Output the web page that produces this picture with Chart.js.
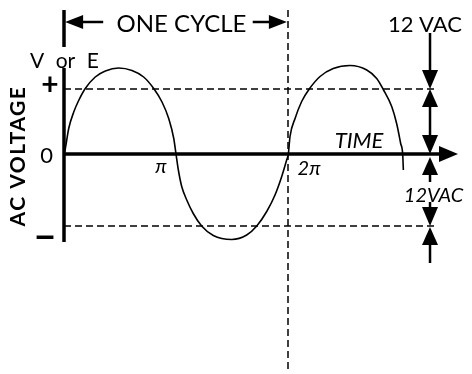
<!DOCTYPE html>
<html><head><meta charset="utf-8">
<script src="https://cdn.jsdelivr.net/npm/chart.js@4"></script>
<style>html,body{margin:0;padding:0;background:#fff}#wrap{width:472px;height:374px;position:relative}</style>
</head><body><div id="wrap"><canvas id="c" width="472" height="374"></canvas></div>
<script>
// Phase of the wave, in multiples of π
const phase = [0, 0.012, 0.042, 0.087, 0.131, 0.190, 0.279, 0.369, 0.488, 0.607, 0.711, 0.801, 0.875, 0.935, 0.980, 1.000,
  1.021, 1.051, 1.096, 1.154, 1.229, 1.333, 1.497, 1.631, 1.721, 1.810, 1.884, 1.944, 1.988, 2.003,
  2.018, 2.063, 2.122, 2.190, 2.286, 2.404, 2.554, 2.703, 2.792, 2.851, 2.926, 2.970, 3.006, 3.024, 3.030];
// Instantaneous voltage (V) at each phase point
const voltage = [0, 1.1, 5.1, 8.4, 10.7, 13.1, 15.4, 16.6, 17.2, 16.7, 15.4, 13.1, 10.4, 7.1, 3.1, 0,
  -3.2, -6.5, -9.2, -11.9, -14.4, -16.3, -17.1, -16.2, -14.4, -11.5, -8.2, -4.5, -1.2, 0,
  3.5, 7.1, 10.5, 13.0, 15.5, 17.1, 17.7, 16.8, 15.1, 12.9, 9.5, 6.1, 2.1, 0, -3.2];
// Dashed reference levels (V)
const refLevels = [13.0, -14.4];
// Phase tick labels
const tickPositions = [1, 2];
const tickLabels = ['π', '2π'];
// Other texts
const cycleLabel = 'ONE CYCLE';
const axisTitle = 'AC VOLTAGE';
const timeLabel = 'TIME';
const quantityLabel = 'V or E';
const amplitudeLabels = ['12 VAC', '12VAC'];

const FONT = 'Lato, "Open Sans", sans-serif';

const annot = {
  id: 'annot',
  afterDatasetsDraw(chart) {
    const {ctx, scales: {x, y}} = chart;
    const X = v => x.getPixelForValue(v), Y = v => y.getPixelForValue(v);
    ctx.save();
    ctx.strokeStyle = '#000'; ctx.fillStyle = '#000'; ctx.lineCap = 'butt';
    const line = (x1, y1, x2, y2, w) => { ctx.lineWidth = w; ctx.beginPath(); ctx.moveTo(x1, y1); ctx.lineTo(x2, y2); ctx.stroke(); };
    const head = (tx, ty, dir, len, wid) => {
      ctx.beginPath(); ctx.moveTo(tx, ty);
      if (dir === 'right') { ctx.lineTo(tx - len, ty - wid / 2); ctx.lineTo(tx - len, ty + wid / 2); }
      if (dir === 'left') { ctx.lineTo(tx + len, ty - wid / 2); ctx.lineTo(tx + len, ty + wid / 2); }
      if (dir === 'down') { ctx.lineTo(tx - wid / 2, ty - len); ctx.lineTo(tx + wid / 2, ty - len); }
      if (dir === 'up') { ctx.lineTo(tx - wid / 2, ty + len); ctx.lineTo(tx + wid / 2, ty + len); }
      ctx.closePath(); ctx.fill();
    };
    const txt = (s, xv, yv, font, align = 'center', base = 'alphabetic', rot = 0, ls = '0px', ws = '0px') => {
      ctx.save(); ctx.font = font; ctx.textAlign = align; ctx.textBaseline = base;
      ctx.letterSpacing = ls; ctx.wordSpacing = ws;
      ctx.translate(X(xv), Y(yv)); if (rot) ctx.rotate(rot);
      ctx.fillText(s, 0, 0); ctx.restore();
    };

    // vertical voltage axis (with a gap for the "V or E" label)
    line(X(0), Y(28.8), X(0), Y(21.4), 3.5);
    line(X(0), Y(17.2), X(0), Y(-17.6), 3.5);
    // time axis
    line(X(0), Y(0), X(3.37), Y(0), 3.5);
    head(X(3.518), Y(0), 'right', 19, 16);

    // ONE CYCLE dimension arrows
    const cy = 26.4;
    head(X(0.01), Y(cy), 'left', 18, 14);
    line(X(0.15), Y(cy), X(0.35), Y(cy), 2.5);
    line(X(1.685), Y(cy), X(1.86), Y(cy), 2.5);
    head(X(1.99), Y(cy), 'right', 18, 14);

    // right-hand measurement arrows
    const ax = X(3.268);
    line(ax, Y(24.2), ax, Y(16), 2.5);
    head(ax, Y(refLevels[0]), 'down', 19, 16);
    head(ax, Y(refLevels[0]), 'up', 18, 16);
    line(ax, Y(10.5), ax, Y(3), 2.5);
    head(ax, Y(0), 'down', 19, 16);
    head(ax, Y(-0.6), 'up', 18, 16);
    line(ax, Y(-3.8), ax, Y(-5.6), 2.5);
    line(ax, Y(-9.6), ax, Y(-11.2), 2.5);
    head(ax, Y(refLevels[1]), 'down', 19, 16);
    head(ax, Y(refLevels[1] - 0.2), 'up', 18, 16);
    line(ax, Y(-17.5), ax, Y(-21.8), 2.5);

    // texts
    txt(cycleLabel, 1.049, 24.4, '24px ' + FONT);
    txt(amplitudeLabels[0], 3.223, 24.4, '22px ' + FONT);
    txt(quantityLabel, 0.004, 17.2, '21px ' + FONT, 'center', 'alphabetic', 0, '0px', '6px');
    txt('+', -0.125, 13.8, 'bold 30px ' + FONT, 'center', 'middle');
    txt('0', -0.156, -1.8, '22px ' + FONT);
    txt('−', -0.17, -16.8, 'bold 38px ' + FONT, 'center', 'middle');
    txt(axisTitle, -0.348, -0.4, 'bold 21px ' + FONT, 'center', 'alphabetic', -Math.PI / 2, '1.5px');
    tickPositions.forEach((p, i) => {
      txt(tickLabels[i], p + (i === 0 ? -0.134 : 0.188), i === 0 ? -3.8 : -4.2, 'italic 20px ' + FONT);
    });
    txt(timeLabel, 2.634, 1.2, 'italic 22px ' + FONT);
    txt(amplitudeLabels[1], 3.299, -9.6, 'italic 20px ' + FONT);
    ctx.restore();
  }
};

new Chart(document.getElementById('c'), {
  type: 'line',
  data: {
    datasets: [
      { data: phase.map((p, i) => ({x: p, y: voltage[i]})), borderColor: '#000', borderWidth: 1.6,
        pointRadius: 0, cubicInterpolationMode: 'monotone', fill: false },
      { data: [{x: 0, y: refLevels[0]}, {x: 3.321, y: refLevels[0]}], borderColor: '#000', borderWidth: 1.5,
        borderDash: [7, 4], pointRadius: 0 },
      { data: [{x: 0, y: refLevels[1]}, {x: 3.321, y: refLevels[1]}], borderColor: '#000', borderWidth: 1.5,
        borderDash: [7, 4], pointRadius: 0 },
      { data: [{x: tickPositions[1], y: 28.8}, {x: tickPositions[1], y: -43.6}], borderColor: '#000', borderWidth: 1.5,
        borderDash: [7, 4], pointRadius: 0 }
    ]
  },
  options: {
    responsive: false, animation: false, events: [],
    layout: {padding: 0},
    plugins: {legend: {display: false}, tooltip: {enabled: false}, title: {display: false}},
    scales: {
      x: {type: 'linear', display: false, min: -64 / 112, max: (472 - 64) / 112},
      y: {type: 'linear', display: false, min: -44, max: 30.8}
    }
  },
  plugins: [annot]
});
</script></body></html>
